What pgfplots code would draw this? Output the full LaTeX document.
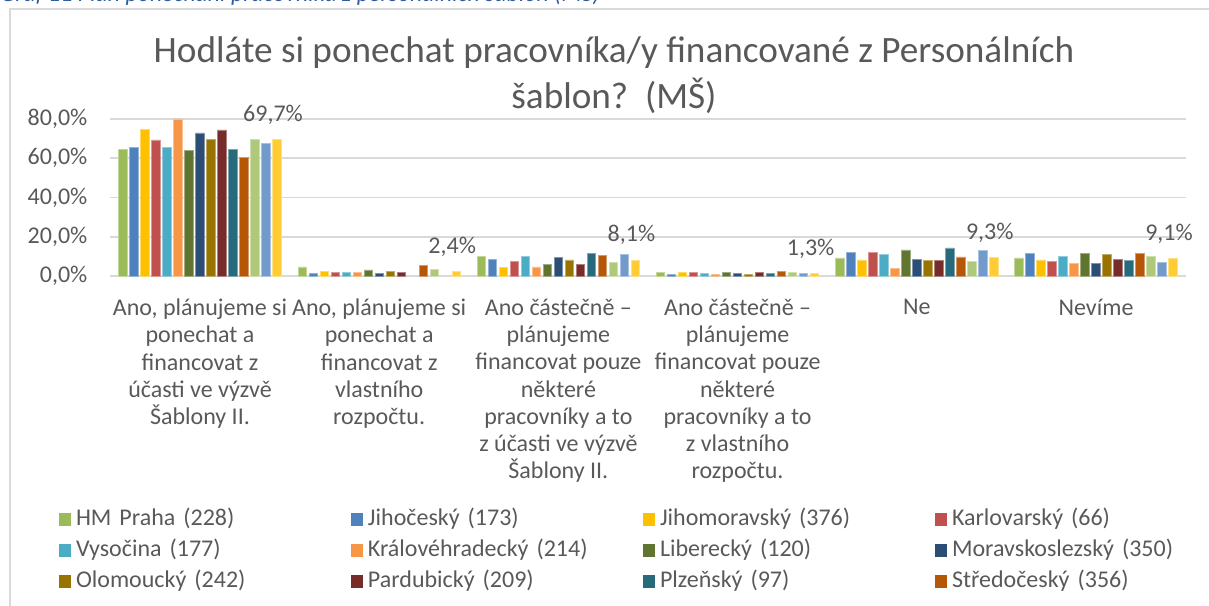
\documentclass[border=0pt]{standalone}
\usepackage{fontspec}
\setmainfont{Carlito}
\usepackage{pgfplots}
\pgfplotsset{compat=1.18}
\definecolor{txt}{HTML}{595959}
\definecolor{gridc}{HTML}{D9D9D9}
\definecolor{capblue}{HTML}{2E5C9E}
\definecolor{c1}{HTML}{9BBB59}
\definecolor{c2}{HTML}{4F81BD}
\definecolor{c3}{HTML}{FFC000}
\definecolor{c4}{HTML}{C0504D}
\definecolor{c5}{HTML}{4BACC6}
\definecolor{c6}{HTML}{F79646}
\definecolor{c7}{HTML}{5F7530}
\definecolor{c8}{HTML}{2C4D75}
\definecolor{c9}{HTML}{997300}
\definecolor{c10}{HTML}{772C2A}
\definecolor{c11}{HTML}{276A7C}
\definecolor{c12}{HTML}{B65708}
\definecolor{c13}{HTML}{AFC97A}
\definecolor{c14}{HTML}{729ACA}
\definecolor{c15}{HTML}{FFCD33}
\newcommand{\lblfont}{\fontsize{12}{13.6}\selectfont}
\pgfplotsset{bb/.style={fill=#1, draw=#1!60!white, line width=0.4pt}}
\begin{document}
\begin{tikzpicture}
\useasboundingbox (0,0) rectangle (604.5pt,-302.5pt);
\draw[gridc, line width=0.6pt] (5pt,-330pt) -- (5pt,-4.5pt) -- (630pt,-4.5pt);
\node[anchor=base west, inner sep=0pt, font=\itshape\fontsize{11.9}{13}\selectfont, text=capblue] at (0pt,-1pt) {Graf 11 Plán ponechání pracovníků z personálních šablon (MŠ)};
\node[align=center, font=\fontsize{18.6}{23}\selectfont, text=txt] at (307pt,-37.5pt) {Hodláte si ponechat pracovníka/y financované z Personálních\\šablon?~~(MŠ)};
\begin{axis}[
  at={(55.2pt,-138pt)}, anchor=south west,
  scale only axis, width=537.6pt, height=78.5pt,
  xmin=-0.5, xmax=5.5, ymin=0, ymax=80,
  ybar=1.35pt, bar width=4.15pt,
  clip=false,
  axis line style={draw=none}, major tick length=0pt,
  ymajorgrids, grid style={draw=gridc, line width=0.8pt},
  ytick={0,20,40,60,80},
  /pgf/number format/assume math mode=true,
  yticklabel={\pgfmathprintnumber[fixed,fixed zerofill,precision=1,use comma]{\tick}\%},
  ticklabel style={font=\lblfont, text=txt},
  yticklabel style={xshift=-8pt},
  xtick={0,1,2,3,4,5},
  xticklabels={
    {Ano, plánujeme si\\ponechat a\\financovat z\\účasti ve výzvě\\Šablony II.},
    {Ano, plánujeme si\\ponechat a\\financovat z\\vlastního\\rozpočtu.},
    {Ano částečně –\\plánujeme\\financovat pouze\\některé\\pracovníky a to\\z účasti ve výzvě\\Šablony II.},
    {Ano částečně –\\plánujeme\\financovat pouze\\některé\\pracovníky a to\\z vlastního\\rozpočtu.},
    {Ne},
    {Nevíme}},
  xticklabel style={align=center, yshift=-8pt},
  legend style={draw=none, fill=none, inner sep=0pt, outer sep=0pt,
    at={(-0.0478,-1.471)}, anchor=north west, legend columns=4,
    font=\lblfont, text=txt, row sep=2.5pt, column sep=0pt,
    nodes={text width=135pt, align=left, inner xsep=2.5pt, inner ysep=1pt, text height=8.5pt, text depth=2.5pt}},
  legend cell align=left,
  legend image code/.code={\draw[#1,/tikz/.cd,draw=none] (0pt,-3.25pt) rectangle (6pt,3.25pt);},
]
\addplot[bb=c1] coordinates {(0,64.7)(1,4.6)(2,9.9)(3,1.7)(4,9.2)(5,9.2)};
\addlegendentry{HM Praha (228)}
\addplot[bb=c2] coordinates {(0,65.7)(1,1.2)(2,8.6)(3,0.6)(4,12.1)(5,11.4)};
\addlegendentry{Jihočeský (173)}
\addplot[bb=c3] coordinates {(0,74.9)(1,2.1)(2,4.3)(3,1.7)(4,8.2)(5,8.2)};
\addlegendentry{Jihomoravský (376)}
\addplot[bb=c4] coordinates {(0,69.3)(1,1.7)(2,7.5)(3,1.7)(4,12.1)(5,7.5)};
\addlegendentry{Karlovarský (66)}
\addplot[bb=c5] coordinates {(0,65.7)(1,1.7)(2,10.1)(3,1.3)(4,10.8)(5,10.1)};
\addlegendentry{Vysočina (177)}
\addplot[bb=c6] coordinates {(0,80.0)(1,1.7)(2,4.6)(3,1.0)(4,3.8)(5,6.5)};
\addlegendentry{Královéhradecký (214)}
\addplot[bb=c7] coordinates {(0,63.9)(1,3.1)(2,5.8)(3,1.7)(4,13.3)(5,11.6)};
\addlegendentry{Liberecký (120)}
\addplot[bb=c8] coordinates {(0,72.9)(1,1.2)(2,9.6)(3,1.3)(4,8.6)(5,6.5)};
\addlegendentry{Moravskoslezský (350)}
\addplot[bb=c9] coordinates {(0,69.6)(1,2.1)(2,8.2)(3,1.0)(4,7.9)(5,11.1)};
\addlegendentry{Olomoucký (242)}
\addplot[bb=c10] coordinates {(0,74.4)(1,1.9)(2,5.7)(3,1.6)(4,7.7)(5,8.6)};
\addlegendentry{Pardubický (209)}
\addplot[bb=c11] coordinates {(0,64.7)(2,11.3)(3,1.3)(4,14.3)(5,8.0)};
\addlegendentry{Plzeňský (97)}
\addplot[bb=c12] coordinates {(0,60.6)(1,5.2)(2,10.4)(3,2.1)(4,9.7)(5,11.4)};
\addlegendentry{Středočeský (356)}
\addplot[bb=c13] coordinates {(0,69.8)(1,3.5)(2,7.0)(3,1.7)(4,7.4)(5,10.1)};
\addplot[bb=c14] coordinates {(0,67.6)(2,10.9)(3,1.3)(4,13.0)(5,7.0)};
\addplot[bb=c15, nodes near coords={\pgfmathprintnumber[fixed,fixed zerofill,precision=1,use comma]{\pgfplotspointmeta}\%},
  every node near coord/.append style={font=\lblfont, text=txt, yshift=4pt, xshift=-2pt}]
  coordinates {(0,69.7)(1,2.4)(2,8.1)(3,1.3)(4,9.3)(5,9.1)};
\end{axis}
\end{tikzpicture}
\end{document}
